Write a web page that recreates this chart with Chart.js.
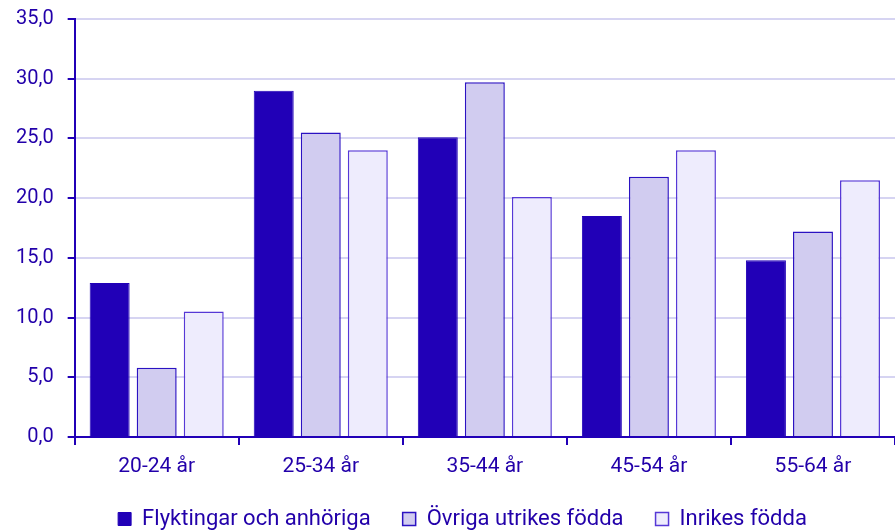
<!DOCTYPE html>
<html>
<head>
<meta charset="utf-8">
<script src="https://cdn.jsdelivr.net/npm/chart.js@4"></script>
<style>
  html, body { margin: 0; padding: 0; background: #fff; }
  #wrap { width: 895px; height: 532px; }
</style>
</head>
<body>
<div id="wrap"><canvas id="diagram"></canvas></div>
<script>
const kategorier = ['20-24 år', '25-34 år', '35-44 år', '45-54 år', '55-64 år'];
const flyktingar = [12.9, 29.0, 25.1, 18.5, 14.8];
const ovriga = [5.8, 25.5, 29.7, 21.8, 17.2];
const inrikes = [10.5, 24.0, 20.1, 24.0, 21.5];

const mork = '#2100b7';
const text = '#2200aa';

// skjuter förklaringen lite åt höger, som i originalet
const flyttaLegend = {
    id: 'flyttaLegend',
    afterLayout(chart) {
        chart.legend.left += 14;
        chart.legend.right += 14;
    }
};

const ctx = document.getElementById('diagram').getContext('2d');

new Chart(ctx, {
    type: 'bar',
    data: {
        labels: kategorier,
        datasets: [
            { label: 'Flyktingar och anhöriga', data: flyktingar, backgroundColor: mork, borderColor: mork, borderWidth: 1 },
            { label: 'Övriga utrikes födda', data: ovriga, backgroundColor: '#d1ccf0', borderColor: '#2b12c2', borderWidth: 1.5 },
            { label: 'Inrikes födda', data: inrikes, backgroundColor: '#eeecfd', borderColor: '#5638d6', borderWidth: 1.5 }
        ]
    },
    options: {
        responsive: true,
        maintainAspectRatio: false,
        animation: false,
        layout: { padding: { top: 19, right: 0, left: 2, bottom: -8 } },
        datasets: { bar: { categoryPercentage: 0.86, barPercentage: 0.85 } },
        plugins: {
            tooltip: { enabled: false },
            legend: {
                position: 'bottom',
                labels: {
                    color: text,
                    font: { family: 'Roboto', size: 22 },
                    boxWidth: 13,
                    boxHeight: 13,
                    padding: 32
                }
            }
        },
        scales: {
            x: {
                grid: { drawOnChartArea: false, drawTicks: true, tickLength: 8, color: mork, lineWidth: 2 },
                border: { color: mork, width: 2 },
                ticks: { color: text, font: { family: 'Roboto', size: 21 }, padding: 9 },
                afterFit: s => { s.height = 39; }
            },
            y: {
                min: 0,
                max: 35,
                ticks: {
                    stepSize: 5,
                    color: text,
                    font: { family: 'Roboto', size: 20 },
                    padding: 14,
                    callback: v => v.toFixed(1).replace('.', ',')
                },
                grid: { color: '#d6d4f2', lineWidth: 2, tickColor: mork, tickLength: 7 },
                border: { color: mork, width: 2 },
                afterFit: s => { s.paddingTop = 0; }
            }
        }
    },
    plugins: [flyttaLegend]
});
</script>
</body>
</html>
